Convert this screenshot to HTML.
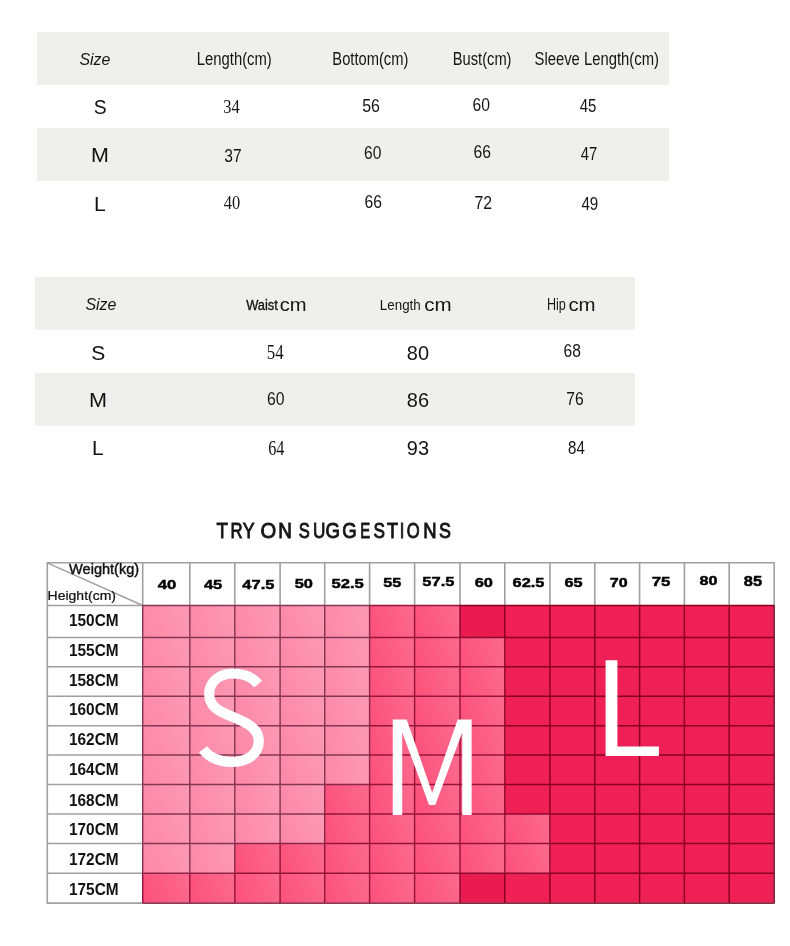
<!DOCTYPE html>
<html><head><meta charset="utf-8"><style>
html,body{margin:0;padding:0;background:#fff;}
body{width:790px;height:946px;overflow:hidden;position:relative;}
svg{position:absolute;left:0;top:0;display:block;will-change:transform;}
text{font-family:"Liberation Sans", sans-serif;}
</style></head><body>
<svg width="790" height="946" viewBox="0 0 790 946">
<defs><linearGradient id="hl" x1="0" y1="0.6" x2="1" y2="0.4"><stop offset="0" stop-color="#fff" stop-opacity="0"/><stop offset="1" stop-color="#fff" stop-opacity="0.13"/></linearGradient></defs>
<rect width="790" height="946" fill="#fff"/>
<rect x="37" y="32" width="632" height="53" fill="#efefee"/>
<rect x="37" y="128" width="632" height="53" fill="#efefee"/>
<rect x="35" y="277" width="600" height="53" fill="#efefee"/>
<rect x="35" y="373" width="600" height="53" fill="#efefee"/>
<rect x="142.7" y="605.5" width="47.1" height="32.0" fill="#fc89a8"/>
<rect x="142.7" y="605.5" width="47.1" height="32.0" fill="url(#hl)"/>
<rect x="189.8" y="605.5" width="45.0" height="32.0" fill="#fc89a8"/>
<rect x="189.8" y="605.5" width="45.0" height="32.0" fill="url(#hl)"/>
<rect x="234.8" y="605.5" width="45.3" height="32.0" fill="#fc89a8"/>
<rect x="234.8" y="605.5" width="45.3" height="32.0" fill="url(#hl)"/>
<rect x="280.1" y="605.5" width="44.6" height="32.0" fill="#fc89a8"/>
<rect x="280.1" y="605.5" width="44.6" height="32.0" fill="url(#hl)"/>
<rect x="324.7" y="605.5" width="44.9" height="32.0" fill="#fc89a8"/>
<rect x="324.7" y="605.5" width="44.9" height="32.0" fill="url(#hl)"/>
<rect x="369.6" y="605.5" width="45.0" height="32.0" fill="#fc527c"/>
<rect x="369.6" y="605.5" width="45.0" height="32.0" fill="url(#hl)"/>
<rect x="414.6" y="605.5" width="45.4" height="32.0" fill="#fc527c"/>
<rect x="414.6" y="605.5" width="45.4" height="32.0" fill="url(#hl)"/>
<rect x="460.0" y="605.5" width="44.8" height="32.0" fill="#e91b50"/>
<rect x="504.8" y="605.5" width="45.1" height="32.0" fill="#ef2055"/>
<rect x="549.9" y="605.5" width="44.9" height="32.0" fill="#ef2055"/>
<rect x="594.8" y="605.5" width="44.8" height="32.0" fill="#ef2055"/>
<rect x="639.6" y="605.5" width="44.8" height="32.0" fill="#ef2055"/>
<rect x="684.4" y="605.5" width="44.8" height="32.0" fill="#ef2055"/>
<rect x="729.2" y="605.5" width="44.9" height="32.0" fill="#ef2055"/>
<rect x="142.7" y="637.5" width="47.1" height="29.2" fill="#fc89a8"/>
<rect x="142.7" y="637.5" width="47.1" height="29.2" fill="url(#hl)"/>
<rect x="189.8" y="637.5" width="45.0" height="29.2" fill="#fc89a8"/>
<rect x="189.8" y="637.5" width="45.0" height="29.2" fill="url(#hl)"/>
<rect x="234.8" y="637.5" width="45.3" height="29.2" fill="#fc89a8"/>
<rect x="234.8" y="637.5" width="45.3" height="29.2" fill="url(#hl)"/>
<rect x="280.1" y="637.5" width="44.6" height="29.2" fill="#fc89a8"/>
<rect x="280.1" y="637.5" width="44.6" height="29.2" fill="url(#hl)"/>
<rect x="324.7" y="637.5" width="44.9" height="29.2" fill="#fc89a8"/>
<rect x="324.7" y="637.5" width="44.9" height="29.2" fill="url(#hl)"/>
<rect x="369.6" y="637.5" width="45.0" height="29.2" fill="#fc527c"/>
<rect x="369.6" y="637.5" width="45.0" height="29.2" fill="url(#hl)"/>
<rect x="414.6" y="637.5" width="45.4" height="29.2" fill="#fc527c"/>
<rect x="414.6" y="637.5" width="45.4" height="29.2" fill="url(#hl)"/>
<rect x="460.0" y="637.5" width="44.8" height="29.2" fill="#fc527c"/>
<rect x="460.0" y="637.5" width="44.8" height="29.2" fill="url(#hl)"/>
<rect x="504.8" y="637.5" width="45.1" height="29.2" fill="#ef2055"/>
<rect x="549.9" y="637.5" width="44.9" height="29.2" fill="#ef2055"/>
<rect x="594.8" y="637.5" width="44.8" height="29.2" fill="#ef2055"/>
<rect x="639.6" y="637.5" width="44.8" height="29.2" fill="#ef2055"/>
<rect x="684.4" y="637.5" width="44.8" height="29.2" fill="#ef2055"/>
<rect x="729.2" y="637.5" width="44.9" height="29.2" fill="#ef2055"/>
<rect x="142.7" y="666.7" width="47.1" height="29.5" fill="#fc89a8"/>
<rect x="142.7" y="666.7" width="47.1" height="29.5" fill="url(#hl)"/>
<rect x="189.8" y="666.7" width="45.0" height="29.5" fill="#fc89a8"/>
<rect x="189.8" y="666.7" width="45.0" height="29.5" fill="url(#hl)"/>
<rect x="234.8" y="666.7" width="45.3" height="29.5" fill="#fc89a8"/>
<rect x="234.8" y="666.7" width="45.3" height="29.5" fill="url(#hl)"/>
<rect x="280.1" y="666.7" width="44.6" height="29.5" fill="#fc89a8"/>
<rect x="280.1" y="666.7" width="44.6" height="29.5" fill="url(#hl)"/>
<rect x="324.7" y="666.7" width="44.9" height="29.5" fill="#fc89a8"/>
<rect x="324.7" y="666.7" width="44.9" height="29.5" fill="url(#hl)"/>
<rect x="369.6" y="666.7" width="45.0" height="29.5" fill="#fc527c"/>
<rect x="369.6" y="666.7" width="45.0" height="29.5" fill="url(#hl)"/>
<rect x="414.6" y="666.7" width="45.4" height="29.5" fill="#fc527c"/>
<rect x="414.6" y="666.7" width="45.4" height="29.5" fill="url(#hl)"/>
<rect x="460.0" y="666.7" width="44.8" height="29.5" fill="#fc527c"/>
<rect x="460.0" y="666.7" width="44.8" height="29.5" fill="url(#hl)"/>
<rect x="504.8" y="666.7" width="45.1" height="29.5" fill="#ef2055"/>
<rect x="549.9" y="666.7" width="44.9" height="29.5" fill="#ef2055"/>
<rect x="594.8" y="666.7" width="44.8" height="29.5" fill="#ef2055"/>
<rect x="639.6" y="666.7" width="44.8" height="29.5" fill="#ef2055"/>
<rect x="684.4" y="666.7" width="44.8" height="29.5" fill="#ef2055"/>
<rect x="729.2" y="666.7" width="44.9" height="29.5" fill="#ef2055"/>
<rect x="142.7" y="696.2" width="47.1" height="29.5" fill="#fc89a8"/>
<rect x="142.7" y="696.2" width="47.1" height="29.5" fill="url(#hl)"/>
<rect x="189.8" y="696.2" width="45.0" height="29.5" fill="#fc89a8"/>
<rect x="189.8" y="696.2" width="45.0" height="29.5" fill="url(#hl)"/>
<rect x="234.8" y="696.2" width="45.3" height="29.5" fill="#fc89a8"/>
<rect x="234.8" y="696.2" width="45.3" height="29.5" fill="url(#hl)"/>
<rect x="280.1" y="696.2" width="44.6" height="29.5" fill="#fc89a8"/>
<rect x="280.1" y="696.2" width="44.6" height="29.5" fill="url(#hl)"/>
<rect x="324.7" y="696.2" width="44.9" height="29.5" fill="#fc89a8"/>
<rect x="324.7" y="696.2" width="44.9" height="29.5" fill="url(#hl)"/>
<rect x="369.6" y="696.2" width="45.0" height="29.5" fill="#fc527c"/>
<rect x="369.6" y="696.2" width="45.0" height="29.5" fill="url(#hl)"/>
<rect x="414.6" y="696.2" width="45.4" height="29.5" fill="#fc527c"/>
<rect x="414.6" y="696.2" width="45.4" height="29.5" fill="url(#hl)"/>
<rect x="460.0" y="696.2" width="44.8" height="29.5" fill="#fc527c"/>
<rect x="460.0" y="696.2" width="44.8" height="29.5" fill="url(#hl)"/>
<rect x="504.8" y="696.2" width="45.1" height="29.5" fill="#ef2055"/>
<rect x="549.9" y="696.2" width="44.9" height="29.5" fill="#ef2055"/>
<rect x="594.8" y="696.2" width="44.8" height="29.5" fill="#ef2055"/>
<rect x="639.6" y="696.2" width="44.8" height="29.5" fill="#ef2055"/>
<rect x="684.4" y="696.2" width="44.8" height="29.5" fill="#ef2055"/>
<rect x="729.2" y="696.2" width="44.9" height="29.5" fill="#ef2055"/>
<rect x="142.7" y="725.7" width="47.1" height="29.3" fill="#fc89a8"/>
<rect x="142.7" y="725.7" width="47.1" height="29.3" fill="url(#hl)"/>
<rect x="189.8" y="725.7" width="45.0" height="29.3" fill="#fc89a8"/>
<rect x="189.8" y="725.7" width="45.0" height="29.3" fill="url(#hl)"/>
<rect x="234.8" y="725.7" width="45.3" height="29.3" fill="#fc89a8"/>
<rect x="234.8" y="725.7" width="45.3" height="29.3" fill="url(#hl)"/>
<rect x="280.1" y="725.7" width="44.6" height="29.3" fill="#fc89a8"/>
<rect x="280.1" y="725.7" width="44.6" height="29.3" fill="url(#hl)"/>
<rect x="324.7" y="725.7" width="44.9" height="29.3" fill="#fc89a8"/>
<rect x="324.7" y="725.7" width="44.9" height="29.3" fill="url(#hl)"/>
<rect x="369.6" y="725.7" width="45.0" height="29.3" fill="#fc527c"/>
<rect x="369.6" y="725.7" width="45.0" height="29.3" fill="url(#hl)"/>
<rect x="414.6" y="725.7" width="45.4" height="29.3" fill="#fc527c"/>
<rect x="414.6" y="725.7" width="45.4" height="29.3" fill="url(#hl)"/>
<rect x="460.0" y="725.7" width="44.8" height="29.3" fill="#fc527c"/>
<rect x="460.0" y="725.7" width="44.8" height="29.3" fill="url(#hl)"/>
<rect x="504.8" y="725.7" width="45.1" height="29.3" fill="#ef2055"/>
<rect x="549.9" y="725.7" width="44.9" height="29.3" fill="#ef2055"/>
<rect x="594.8" y="725.7" width="44.8" height="29.3" fill="#ef2055"/>
<rect x="639.6" y="725.7" width="44.8" height="29.3" fill="#ef2055"/>
<rect x="684.4" y="725.7" width="44.8" height="29.3" fill="#ef2055"/>
<rect x="729.2" y="725.7" width="44.9" height="29.3" fill="#ef2055"/>
<rect x="142.7" y="755.0" width="47.1" height="29.5" fill="#fc89a8"/>
<rect x="142.7" y="755.0" width="47.1" height="29.5" fill="url(#hl)"/>
<rect x="189.8" y="755.0" width="45.0" height="29.5" fill="#fc89a8"/>
<rect x="189.8" y="755.0" width="45.0" height="29.5" fill="url(#hl)"/>
<rect x="234.8" y="755.0" width="45.3" height="29.5" fill="#fc89a8"/>
<rect x="234.8" y="755.0" width="45.3" height="29.5" fill="url(#hl)"/>
<rect x="280.1" y="755.0" width="44.6" height="29.5" fill="#fc89a8"/>
<rect x="280.1" y="755.0" width="44.6" height="29.5" fill="url(#hl)"/>
<rect x="324.7" y="755.0" width="44.9" height="29.5" fill="#fc89a8"/>
<rect x="324.7" y="755.0" width="44.9" height="29.5" fill="url(#hl)"/>
<rect x="369.6" y="755.0" width="45.0" height="29.5" fill="#fc527c"/>
<rect x="369.6" y="755.0" width="45.0" height="29.5" fill="url(#hl)"/>
<rect x="414.6" y="755.0" width="45.4" height="29.5" fill="#fc527c"/>
<rect x="414.6" y="755.0" width="45.4" height="29.5" fill="url(#hl)"/>
<rect x="460.0" y="755.0" width="44.8" height="29.5" fill="#fc527c"/>
<rect x="460.0" y="755.0" width="44.8" height="29.5" fill="url(#hl)"/>
<rect x="504.8" y="755.0" width="45.1" height="29.5" fill="#ef2055"/>
<rect x="549.9" y="755.0" width="44.9" height="29.5" fill="#ef2055"/>
<rect x="594.8" y="755.0" width="44.8" height="29.5" fill="#ef2055"/>
<rect x="639.6" y="755.0" width="44.8" height="29.5" fill="#ef2055"/>
<rect x="684.4" y="755.0" width="44.8" height="29.5" fill="#ef2055"/>
<rect x="729.2" y="755.0" width="44.9" height="29.5" fill="#ef2055"/>
<rect x="142.7" y="784.5" width="47.1" height="29.5" fill="#fc89a8"/>
<rect x="142.7" y="784.5" width="47.1" height="29.5" fill="url(#hl)"/>
<rect x="189.8" y="784.5" width="45.0" height="29.5" fill="#fc89a8"/>
<rect x="189.8" y="784.5" width="45.0" height="29.5" fill="url(#hl)"/>
<rect x="234.8" y="784.5" width="45.3" height="29.5" fill="#fc89a8"/>
<rect x="234.8" y="784.5" width="45.3" height="29.5" fill="url(#hl)"/>
<rect x="280.1" y="784.5" width="44.6" height="29.5" fill="#fc89a8"/>
<rect x="280.1" y="784.5" width="44.6" height="29.5" fill="url(#hl)"/>
<rect x="324.7" y="784.5" width="44.9" height="29.5" fill="#fc527c"/>
<rect x="324.7" y="784.5" width="44.9" height="29.5" fill="url(#hl)"/>
<rect x="369.6" y="784.5" width="45.0" height="29.5" fill="#fc527c"/>
<rect x="369.6" y="784.5" width="45.0" height="29.5" fill="url(#hl)"/>
<rect x="414.6" y="784.5" width="45.4" height="29.5" fill="#fc527c"/>
<rect x="414.6" y="784.5" width="45.4" height="29.5" fill="url(#hl)"/>
<rect x="460.0" y="784.5" width="44.8" height="29.5" fill="#fc527c"/>
<rect x="460.0" y="784.5" width="44.8" height="29.5" fill="url(#hl)"/>
<rect x="504.8" y="784.5" width="45.1" height="29.5" fill="#ef2055"/>
<rect x="549.9" y="784.5" width="44.9" height="29.5" fill="#ef2055"/>
<rect x="594.8" y="784.5" width="44.8" height="29.5" fill="#ef2055"/>
<rect x="639.6" y="784.5" width="44.8" height="29.5" fill="#ef2055"/>
<rect x="684.4" y="784.5" width="44.8" height="29.5" fill="#ef2055"/>
<rect x="729.2" y="784.5" width="44.9" height="29.5" fill="#ef2055"/>
<rect x="142.7" y="814.0" width="47.1" height="29.5" fill="#fc89a8"/>
<rect x="142.7" y="814.0" width="47.1" height="29.5" fill="url(#hl)"/>
<rect x="189.8" y="814.0" width="45.0" height="29.5" fill="#fc89a8"/>
<rect x="189.8" y="814.0" width="45.0" height="29.5" fill="url(#hl)"/>
<rect x="234.8" y="814.0" width="45.3" height="29.5" fill="#fc89a8"/>
<rect x="234.8" y="814.0" width="45.3" height="29.5" fill="url(#hl)"/>
<rect x="280.1" y="814.0" width="44.6" height="29.5" fill="#fc89a8"/>
<rect x="280.1" y="814.0" width="44.6" height="29.5" fill="url(#hl)"/>
<rect x="324.7" y="814.0" width="44.9" height="29.5" fill="#fc527c"/>
<rect x="324.7" y="814.0" width="44.9" height="29.5" fill="url(#hl)"/>
<rect x="369.6" y="814.0" width="45.0" height="29.5" fill="#fc527c"/>
<rect x="369.6" y="814.0" width="45.0" height="29.5" fill="url(#hl)"/>
<rect x="414.6" y="814.0" width="45.4" height="29.5" fill="#fc527c"/>
<rect x="414.6" y="814.0" width="45.4" height="29.5" fill="url(#hl)"/>
<rect x="460.0" y="814.0" width="44.8" height="29.5" fill="#fc527c"/>
<rect x="460.0" y="814.0" width="44.8" height="29.5" fill="url(#hl)"/>
<rect x="504.8" y="814.0" width="45.1" height="29.5" fill="#fc527c"/>
<rect x="504.8" y="814.0" width="45.1" height="29.5" fill="url(#hl)"/>
<rect x="549.9" y="814.0" width="44.9" height="29.5" fill="#ef2055"/>
<rect x="594.8" y="814.0" width="44.8" height="29.5" fill="#ef2055"/>
<rect x="639.6" y="814.0" width="44.8" height="29.5" fill="#ef2055"/>
<rect x="684.4" y="814.0" width="44.8" height="29.5" fill="#ef2055"/>
<rect x="729.2" y="814.0" width="44.9" height="29.5" fill="#ef2055"/>
<rect x="142.7" y="843.5" width="47.1" height="29.7" fill="#fc89a8"/>
<rect x="142.7" y="843.5" width="47.1" height="29.7" fill="url(#hl)"/>
<rect x="189.8" y="843.5" width="45.0" height="29.7" fill="#fc89a8"/>
<rect x="189.8" y="843.5" width="45.0" height="29.7" fill="url(#hl)"/>
<rect x="234.8" y="843.5" width="45.3" height="29.7" fill="#fc527c"/>
<rect x="234.8" y="843.5" width="45.3" height="29.7" fill="url(#hl)"/>
<rect x="280.1" y="843.5" width="44.6" height="29.7" fill="#fc527c"/>
<rect x="280.1" y="843.5" width="44.6" height="29.7" fill="url(#hl)"/>
<rect x="324.7" y="843.5" width="44.9" height="29.7" fill="#fc527c"/>
<rect x="324.7" y="843.5" width="44.9" height="29.7" fill="url(#hl)"/>
<rect x="369.6" y="843.5" width="45.0" height="29.7" fill="#fc527c"/>
<rect x="369.6" y="843.5" width="45.0" height="29.7" fill="url(#hl)"/>
<rect x="414.6" y="843.5" width="45.4" height="29.7" fill="#fc527c"/>
<rect x="414.6" y="843.5" width="45.4" height="29.7" fill="url(#hl)"/>
<rect x="460.0" y="843.5" width="44.8" height="29.7" fill="#fc527c"/>
<rect x="460.0" y="843.5" width="44.8" height="29.7" fill="url(#hl)"/>
<rect x="504.8" y="843.5" width="45.1" height="29.7" fill="#fc527c"/>
<rect x="504.8" y="843.5" width="45.1" height="29.7" fill="url(#hl)"/>
<rect x="549.9" y="843.5" width="44.9" height="29.7" fill="#ef2055"/>
<rect x="594.8" y="843.5" width="44.8" height="29.7" fill="#ef2055"/>
<rect x="639.6" y="843.5" width="44.8" height="29.7" fill="#ef2055"/>
<rect x="684.4" y="843.5" width="44.8" height="29.7" fill="#ef2055"/>
<rect x="729.2" y="843.5" width="44.9" height="29.7" fill="#ef2055"/>
<rect x="142.7" y="873.2" width="47.1" height="29.9" fill="#fc527c"/>
<rect x="142.7" y="873.2" width="47.1" height="29.9" fill="url(#hl)"/>
<rect x="189.8" y="873.2" width="45.0" height="29.9" fill="#fc527c"/>
<rect x="189.8" y="873.2" width="45.0" height="29.9" fill="url(#hl)"/>
<rect x="234.8" y="873.2" width="45.3" height="29.9" fill="#fc527c"/>
<rect x="234.8" y="873.2" width="45.3" height="29.9" fill="url(#hl)"/>
<rect x="280.1" y="873.2" width="44.6" height="29.9" fill="#fc527c"/>
<rect x="280.1" y="873.2" width="44.6" height="29.9" fill="url(#hl)"/>
<rect x="324.7" y="873.2" width="44.9" height="29.9" fill="#fc527c"/>
<rect x="324.7" y="873.2" width="44.9" height="29.9" fill="url(#hl)"/>
<rect x="369.6" y="873.2" width="45.0" height="29.9" fill="#fc527c"/>
<rect x="369.6" y="873.2" width="45.0" height="29.9" fill="url(#hl)"/>
<rect x="414.6" y="873.2" width="45.4" height="29.9" fill="#fc527c"/>
<rect x="414.6" y="873.2" width="45.4" height="29.9" fill="url(#hl)"/>
<rect x="460.0" y="873.2" width="44.8" height="29.9" fill="#e91b50"/>
<rect x="504.8" y="873.2" width="45.1" height="29.9" fill="#ef2055"/>
<rect x="549.9" y="873.2" width="44.9" height="29.9" fill="#ef2055"/>
<rect x="594.8" y="873.2" width="44.8" height="29.9" fill="#ef2055"/>
<rect x="639.6" y="873.2" width="44.8" height="29.9" fill="#ef2055"/>
<rect x="684.4" y="873.2" width="44.8" height="29.9" fill="#ef2055"/>
<rect x="729.2" y="873.2" width="44.9" height="29.9" fill="#ef2055"/>
<path d="M47.3 562.8H774.1V903.1H47.3Z" fill="none" stroke="#a0a0a0" stroke-width="1.6"/>
<line x1="142.7" y1="562.8" x2="142.7" y2="605.5" stroke="#a0a0a0" stroke-width="1.6"/>
<line x1="189.8" y1="562.8" x2="189.8" y2="605.5" stroke="#a0a0a0" stroke-width="1.6"/>
<line x1="234.8" y1="562.8" x2="234.8" y2="605.5" stroke="#a0a0a0" stroke-width="1.6"/>
<line x1="280.1" y1="562.8" x2="280.1" y2="605.5" stroke="#a0a0a0" stroke-width="1.6"/>
<line x1="324.7" y1="562.8" x2="324.7" y2="605.5" stroke="#a0a0a0" stroke-width="1.6"/>
<line x1="369.6" y1="562.8" x2="369.6" y2="605.5" stroke="#a0a0a0" stroke-width="1.6"/>
<line x1="414.6" y1="562.8" x2="414.6" y2="605.5" stroke="#a0a0a0" stroke-width="1.6"/>
<line x1="460.0" y1="562.8" x2="460.0" y2="605.5" stroke="#a0a0a0" stroke-width="1.6"/>
<line x1="504.8" y1="562.8" x2="504.8" y2="605.5" stroke="#a0a0a0" stroke-width="1.6"/>
<line x1="549.9" y1="562.8" x2="549.9" y2="605.5" stroke="#a0a0a0" stroke-width="1.6"/>
<line x1="594.8" y1="562.8" x2="594.8" y2="605.5" stroke="#a0a0a0" stroke-width="1.6"/>
<line x1="639.6" y1="562.8" x2="639.6" y2="605.5" stroke="#a0a0a0" stroke-width="1.6"/>
<line x1="684.4" y1="562.8" x2="684.4" y2="605.5" stroke="#a0a0a0" stroke-width="1.6"/>
<line x1="729.2" y1="562.8" x2="729.2" y2="605.5" stroke="#a0a0a0" stroke-width="1.6"/>
<line x1="47.3" y1="605.5" x2="142.7" y2="605.5" stroke="#a0a0a0" stroke-width="1.6"/>
<line x1="47.3" y1="637.5" x2="142.7" y2="637.5" stroke="#a0a0a0" stroke-width="1.6"/>
<line x1="47.3" y1="666.7" x2="142.7" y2="666.7" stroke="#a0a0a0" stroke-width="1.6"/>
<line x1="47.3" y1="696.2" x2="142.7" y2="696.2" stroke="#a0a0a0" stroke-width="1.6"/>
<line x1="47.3" y1="725.7" x2="142.7" y2="725.7" stroke="#a0a0a0" stroke-width="1.6"/>
<line x1="47.3" y1="755.0" x2="142.7" y2="755.0" stroke="#a0a0a0" stroke-width="1.6"/>
<line x1="47.3" y1="784.5" x2="142.7" y2="784.5" stroke="#a0a0a0" stroke-width="1.6"/>
<line x1="47.3" y1="814.0" x2="142.7" y2="814.0" stroke="#a0a0a0" stroke-width="1.6"/>
<line x1="47.3" y1="843.5" x2="142.7" y2="843.5" stroke="#a0a0a0" stroke-width="1.6"/>
<line x1="47.3" y1="873.2" x2="142.7" y2="873.2" stroke="#a0a0a0" stroke-width="1.6"/>
<line x1="47.3" y1="562.8" x2="142.7" y2="605.5" stroke="#a0a0a0" stroke-width="1.4"/>
<line x1="142.7" y1="605.5" x2="142.7" y2="637.5" stroke="rgb(132,55,85)" stroke-width="1.45"/>
<line x1="142.7" y1="637.5" x2="142.7" y2="666.7" stroke="rgb(132,55,85)" stroke-width="1.45"/>
<line x1="142.7" y1="666.7" x2="142.7" y2="696.2" stroke="rgb(132,55,85)" stroke-width="1.45"/>
<line x1="142.7" y1="696.2" x2="142.7" y2="725.7" stroke="rgb(132,55,85)" stroke-width="1.45"/>
<line x1="142.7" y1="725.7" x2="142.7" y2="755.0" stroke="rgb(132,55,85)" stroke-width="1.45"/>
<line x1="142.7" y1="755.0" x2="142.7" y2="784.5" stroke="rgb(132,55,85)" stroke-width="1.45"/>
<line x1="142.7" y1="784.5" x2="142.7" y2="814.0" stroke="rgb(132,55,85)" stroke-width="1.45"/>
<line x1="142.7" y1="814.0" x2="142.7" y2="843.5" stroke="rgb(132,55,85)" stroke-width="1.45"/>
<line x1="142.7" y1="843.5" x2="142.7" y2="873.2" stroke="rgb(132,55,85)" stroke-width="1.45"/>
<line x1="142.7" y1="873.2" x2="142.7" y2="903.1" stroke="rgb(150,20,58)" stroke-width="1.45"/>
<line x1="189.8" y1="605.5" x2="189.8" y2="637.5" stroke="rgb(132,55,85)" stroke-width="1.45"/>
<line x1="189.8" y1="637.5" x2="189.8" y2="666.7" stroke="rgb(132,55,85)" stroke-width="1.45"/>
<line x1="189.8" y1="666.7" x2="189.8" y2="696.2" stroke="rgb(132,55,85)" stroke-width="1.45"/>
<line x1="189.8" y1="696.2" x2="189.8" y2="725.7" stroke="rgb(132,55,85)" stroke-width="1.45"/>
<line x1="189.8" y1="725.7" x2="189.8" y2="755.0" stroke="rgb(132,55,85)" stroke-width="1.45"/>
<line x1="189.8" y1="755.0" x2="189.8" y2="784.5" stroke="rgb(132,55,85)" stroke-width="1.45"/>
<line x1="189.8" y1="784.5" x2="189.8" y2="814.0" stroke="rgb(132,55,85)" stroke-width="1.45"/>
<line x1="189.8" y1="814.0" x2="189.8" y2="843.5" stroke="rgb(132,55,85)" stroke-width="1.45"/>
<line x1="189.8" y1="843.5" x2="189.8" y2="873.2" stroke="rgb(132,55,85)" stroke-width="1.45"/>
<line x1="189.8" y1="873.2" x2="189.8" y2="903.1" stroke="rgb(150,20,58)" stroke-width="1.45"/>
<line x1="234.8" y1="605.5" x2="234.8" y2="637.5" stroke="rgb(132,55,85)" stroke-width="1.45"/>
<line x1="234.8" y1="637.5" x2="234.8" y2="666.7" stroke="rgb(132,55,85)" stroke-width="1.45"/>
<line x1="234.8" y1="666.7" x2="234.8" y2="696.2" stroke="rgb(132,55,85)" stroke-width="1.45"/>
<line x1="234.8" y1="696.2" x2="234.8" y2="725.7" stroke="rgb(132,55,85)" stroke-width="1.45"/>
<line x1="234.8" y1="725.7" x2="234.8" y2="755.0" stroke="rgb(132,55,85)" stroke-width="1.45"/>
<line x1="234.8" y1="755.0" x2="234.8" y2="784.5" stroke="rgb(132,55,85)" stroke-width="1.45"/>
<line x1="234.8" y1="784.5" x2="234.8" y2="814.0" stroke="rgb(132,55,85)" stroke-width="1.45"/>
<line x1="234.8" y1="814.0" x2="234.8" y2="843.5" stroke="rgb(132,55,85)" stroke-width="1.45"/>
<line x1="234.8" y1="843.5" x2="234.8" y2="873.2" stroke="rgb(141,38,72)" stroke-width="1.45"/>
<line x1="234.8" y1="873.2" x2="234.8" y2="903.1" stroke="rgb(150,20,58)" stroke-width="1.45"/>
<line x1="280.1" y1="605.5" x2="280.1" y2="637.5" stroke="rgb(132,55,85)" stroke-width="1.45"/>
<line x1="280.1" y1="637.5" x2="280.1" y2="666.7" stroke="rgb(132,55,85)" stroke-width="1.45"/>
<line x1="280.1" y1="666.7" x2="280.1" y2="696.2" stroke="rgb(132,55,85)" stroke-width="1.45"/>
<line x1="280.1" y1="696.2" x2="280.1" y2="725.7" stroke="rgb(132,55,85)" stroke-width="1.45"/>
<line x1="280.1" y1="725.7" x2="280.1" y2="755.0" stroke="rgb(132,55,85)" stroke-width="1.45"/>
<line x1="280.1" y1="755.0" x2="280.1" y2="784.5" stroke="rgb(132,55,85)" stroke-width="1.45"/>
<line x1="280.1" y1="784.5" x2="280.1" y2="814.0" stroke="rgb(132,55,85)" stroke-width="1.45"/>
<line x1="280.1" y1="814.0" x2="280.1" y2="843.5" stroke="rgb(132,55,85)" stroke-width="1.45"/>
<line x1="280.1" y1="843.5" x2="280.1" y2="873.2" stroke="rgb(150,20,58)" stroke-width="1.45"/>
<line x1="280.1" y1="873.2" x2="280.1" y2="903.1" stroke="rgb(150,20,58)" stroke-width="1.45"/>
<line x1="324.7" y1="605.5" x2="324.7" y2="637.5" stroke="rgb(132,55,85)" stroke-width="1.45"/>
<line x1="324.7" y1="637.5" x2="324.7" y2="666.7" stroke="rgb(132,55,85)" stroke-width="1.45"/>
<line x1="324.7" y1="666.7" x2="324.7" y2="696.2" stroke="rgb(132,55,85)" stroke-width="1.45"/>
<line x1="324.7" y1="696.2" x2="324.7" y2="725.7" stroke="rgb(132,55,85)" stroke-width="1.45"/>
<line x1="324.7" y1="725.7" x2="324.7" y2="755.0" stroke="rgb(132,55,85)" stroke-width="1.45"/>
<line x1="324.7" y1="755.0" x2="324.7" y2="784.5" stroke="rgb(132,55,85)" stroke-width="1.45"/>
<line x1="324.7" y1="784.5" x2="324.7" y2="814.0" stroke="rgb(141,38,72)" stroke-width="1.45"/>
<line x1="324.7" y1="814.0" x2="324.7" y2="843.5" stroke="rgb(141,38,72)" stroke-width="1.45"/>
<line x1="324.7" y1="843.5" x2="324.7" y2="873.2" stroke="rgb(150,20,58)" stroke-width="1.45"/>
<line x1="324.7" y1="873.2" x2="324.7" y2="903.1" stroke="rgb(150,20,58)" stroke-width="1.45"/>
<line x1="369.6" y1="605.5" x2="369.6" y2="637.5" stroke="rgb(141,38,72)" stroke-width="1.45"/>
<line x1="369.6" y1="637.5" x2="369.6" y2="666.7" stroke="rgb(141,38,72)" stroke-width="1.45"/>
<line x1="369.6" y1="666.7" x2="369.6" y2="696.2" stroke="rgb(141,38,72)" stroke-width="1.45"/>
<line x1="369.6" y1="696.2" x2="369.6" y2="725.7" stroke="rgb(141,38,72)" stroke-width="1.45"/>
<line x1="369.6" y1="725.7" x2="369.6" y2="755.0" stroke="rgb(141,38,72)" stroke-width="1.45"/>
<line x1="369.6" y1="755.0" x2="369.6" y2="784.5" stroke="rgb(141,38,72)" stroke-width="1.45"/>
<line x1="369.6" y1="784.5" x2="369.6" y2="814.0" stroke="rgb(150,20,58)" stroke-width="1.45"/>
<line x1="369.6" y1="814.0" x2="369.6" y2="843.5" stroke="rgb(150,20,58)" stroke-width="1.45"/>
<line x1="369.6" y1="843.5" x2="369.6" y2="873.2" stroke="rgb(150,20,58)" stroke-width="1.45"/>
<line x1="369.6" y1="873.2" x2="369.6" y2="903.1" stroke="rgb(150,20,58)" stroke-width="1.45"/>
<line x1="414.6" y1="605.5" x2="414.6" y2="637.5" stroke="rgb(150,20,58)" stroke-width="1.45"/>
<line x1="414.6" y1="637.5" x2="414.6" y2="666.7" stroke="rgb(150,20,58)" stroke-width="1.45"/>
<line x1="414.6" y1="666.7" x2="414.6" y2="696.2" stroke="rgb(150,20,58)" stroke-width="1.45"/>
<line x1="414.6" y1="696.2" x2="414.6" y2="725.7" stroke="rgb(150,20,58)" stroke-width="1.45"/>
<line x1="414.6" y1="725.7" x2="414.6" y2="755.0" stroke="rgb(150,20,58)" stroke-width="1.45"/>
<line x1="414.6" y1="755.0" x2="414.6" y2="784.5" stroke="rgb(150,20,58)" stroke-width="1.45"/>
<line x1="414.6" y1="784.5" x2="414.6" y2="814.0" stroke="rgb(150,20,58)" stroke-width="1.45"/>
<line x1="414.6" y1="814.0" x2="414.6" y2="843.5" stroke="rgb(150,20,58)" stroke-width="1.45"/>
<line x1="414.6" y1="843.5" x2="414.6" y2="873.2" stroke="rgb(150,20,58)" stroke-width="1.45"/>
<line x1="414.6" y1="873.2" x2="414.6" y2="903.1" stroke="rgb(150,20,58)" stroke-width="1.45"/>
<line x1="460.0" y1="605.5" x2="460.0" y2="637.5" stroke="rgb(140,10,43)" stroke-width="1.45"/>
<line x1="460.0" y1="637.5" x2="460.0" y2="666.7" stroke="rgb(150,20,58)" stroke-width="1.45"/>
<line x1="460.0" y1="666.7" x2="460.0" y2="696.2" stroke="rgb(150,20,58)" stroke-width="1.45"/>
<line x1="460.0" y1="696.2" x2="460.0" y2="725.7" stroke="rgb(150,20,58)" stroke-width="1.45"/>
<line x1="460.0" y1="725.7" x2="460.0" y2="755.0" stroke="rgb(150,20,58)" stroke-width="1.45"/>
<line x1="460.0" y1="755.0" x2="460.0" y2="784.5" stroke="rgb(150,20,58)" stroke-width="1.45"/>
<line x1="460.0" y1="784.5" x2="460.0" y2="814.0" stroke="rgb(150,20,58)" stroke-width="1.45"/>
<line x1="460.0" y1="814.0" x2="460.0" y2="843.5" stroke="rgb(150,20,58)" stroke-width="1.45"/>
<line x1="460.0" y1="843.5" x2="460.0" y2="873.2" stroke="rgb(150,20,58)" stroke-width="1.45"/>
<line x1="460.0" y1="873.2" x2="460.0" y2="903.1" stroke="rgb(140,10,43)" stroke-width="1.45"/>
<line x1="504.8" y1="605.5" x2="504.8" y2="637.5" stroke="rgb(132,0,29)" stroke-width="1.45"/>
<line x1="504.8" y1="637.5" x2="504.8" y2="666.7" stroke="rgb(142,10,44)" stroke-width="1.45"/>
<line x1="504.8" y1="666.7" x2="504.8" y2="696.2" stroke="rgb(142,10,44)" stroke-width="1.45"/>
<line x1="504.8" y1="696.2" x2="504.8" y2="725.7" stroke="rgb(142,10,44)" stroke-width="1.45"/>
<line x1="504.8" y1="725.7" x2="504.8" y2="755.0" stroke="rgb(142,10,44)" stroke-width="1.45"/>
<line x1="504.8" y1="755.0" x2="504.8" y2="784.5" stroke="rgb(142,10,44)" stroke-width="1.45"/>
<line x1="504.8" y1="784.5" x2="504.8" y2="814.0" stroke="rgb(142,10,44)" stroke-width="1.45"/>
<line x1="504.8" y1="814.0" x2="504.8" y2="843.5" stroke="rgb(150,20,58)" stroke-width="1.45"/>
<line x1="504.8" y1="843.5" x2="504.8" y2="873.2" stroke="rgb(150,20,58)" stroke-width="1.45"/>
<line x1="504.8" y1="873.2" x2="504.8" y2="903.1" stroke="rgb(132,0,29)" stroke-width="1.45"/>
<line x1="549.9" y1="605.5" x2="549.9" y2="637.5" stroke="rgb(135,0,30)" stroke-width="1.45"/>
<line x1="549.9" y1="637.5" x2="549.9" y2="666.7" stroke="rgb(135,0,30)" stroke-width="1.45"/>
<line x1="549.9" y1="666.7" x2="549.9" y2="696.2" stroke="rgb(135,0,30)" stroke-width="1.45"/>
<line x1="549.9" y1="696.2" x2="549.9" y2="725.7" stroke="rgb(135,0,30)" stroke-width="1.45"/>
<line x1="549.9" y1="725.7" x2="549.9" y2="755.0" stroke="rgb(135,0,30)" stroke-width="1.45"/>
<line x1="549.9" y1="755.0" x2="549.9" y2="784.5" stroke="rgb(135,0,30)" stroke-width="1.45"/>
<line x1="549.9" y1="784.5" x2="549.9" y2="814.0" stroke="rgb(135,0,30)" stroke-width="1.45"/>
<line x1="549.9" y1="814.0" x2="549.9" y2="843.5" stroke="rgb(142,10,44)" stroke-width="1.45"/>
<line x1="549.9" y1="843.5" x2="549.9" y2="873.2" stroke="rgb(142,10,44)" stroke-width="1.45"/>
<line x1="549.9" y1="873.2" x2="549.9" y2="903.1" stroke="rgb(135,0,30)" stroke-width="1.45"/>
<line x1="594.8" y1="605.5" x2="594.8" y2="637.5" stroke="rgb(135,0,30)" stroke-width="1.45"/>
<line x1="594.8" y1="637.5" x2="594.8" y2="666.7" stroke="rgb(135,0,30)" stroke-width="1.45"/>
<line x1="594.8" y1="666.7" x2="594.8" y2="696.2" stroke="rgb(135,0,30)" stroke-width="1.45"/>
<line x1="594.8" y1="696.2" x2="594.8" y2="725.7" stroke="rgb(135,0,30)" stroke-width="1.45"/>
<line x1="594.8" y1="725.7" x2="594.8" y2="755.0" stroke="rgb(135,0,30)" stroke-width="1.45"/>
<line x1="594.8" y1="755.0" x2="594.8" y2="784.5" stroke="rgb(135,0,30)" stroke-width="1.45"/>
<line x1="594.8" y1="784.5" x2="594.8" y2="814.0" stroke="rgb(135,0,30)" stroke-width="1.45"/>
<line x1="594.8" y1="814.0" x2="594.8" y2="843.5" stroke="rgb(135,0,30)" stroke-width="1.45"/>
<line x1="594.8" y1="843.5" x2="594.8" y2="873.2" stroke="rgb(135,0,30)" stroke-width="1.45"/>
<line x1="594.8" y1="873.2" x2="594.8" y2="903.1" stroke="rgb(135,0,30)" stroke-width="1.45"/>
<line x1="639.6" y1="605.5" x2="639.6" y2="637.5" stroke="rgb(135,0,30)" stroke-width="1.45"/>
<line x1="639.6" y1="637.5" x2="639.6" y2="666.7" stroke="rgb(135,0,30)" stroke-width="1.45"/>
<line x1="639.6" y1="666.7" x2="639.6" y2="696.2" stroke="rgb(135,0,30)" stroke-width="1.45"/>
<line x1="639.6" y1="696.2" x2="639.6" y2="725.7" stroke="rgb(135,0,30)" stroke-width="1.45"/>
<line x1="639.6" y1="725.7" x2="639.6" y2="755.0" stroke="rgb(135,0,30)" stroke-width="1.45"/>
<line x1="639.6" y1="755.0" x2="639.6" y2="784.5" stroke="rgb(135,0,30)" stroke-width="1.45"/>
<line x1="639.6" y1="784.5" x2="639.6" y2="814.0" stroke="rgb(135,0,30)" stroke-width="1.45"/>
<line x1="639.6" y1="814.0" x2="639.6" y2="843.5" stroke="rgb(135,0,30)" stroke-width="1.45"/>
<line x1="639.6" y1="843.5" x2="639.6" y2="873.2" stroke="rgb(135,0,30)" stroke-width="1.45"/>
<line x1="639.6" y1="873.2" x2="639.6" y2="903.1" stroke="rgb(135,0,30)" stroke-width="1.45"/>
<line x1="684.4" y1="605.5" x2="684.4" y2="637.5" stroke="rgb(135,0,30)" stroke-width="1.45"/>
<line x1="684.4" y1="637.5" x2="684.4" y2="666.7" stroke="rgb(135,0,30)" stroke-width="1.45"/>
<line x1="684.4" y1="666.7" x2="684.4" y2="696.2" stroke="rgb(135,0,30)" stroke-width="1.45"/>
<line x1="684.4" y1="696.2" x2="684.4" y2="725.7" stroke="rgb(135,0,30)" stroke-width="1.45"/>
<line x1="684.4" y1="725.7" x2="684.4" y2="755.0" stroke="rgb(135,0,30)" stroke-width="1.45"/>
<line x1="684.4" y1="755.0" x2="684.4" y2="784.5" stroke="rgb(135,0,30)" stroke-width="1.45"/>
<line x1="684.4" y1="784.5" x2="684.4" y2="814.0" stroke="rgb(135,0,30)" stroke-width="1.45"/>
<line x1="684.4" y1="814.0" x2="684.4" y2="843.5" stroke="rgb(135,0,30)" stroke-width="1.45"/>
<line x1="684.4" y1="843.5" x2="684.4" y2="873.2" stroke="rgb(135,0,30)" stroke-width="1.45"/>
<line x1="684.4" y1="873.2" x2="684.4" y2="903.1" stroke="rgb(135,0,30)" stroke-width="1.45"/>
<line x1="729.2" y1="605.5" x2="729.2" y2="637.5" stroke="rgb(135,0,30)" stroke-width="1.45"/>
<line x1="729.2" y1="637.5" x2="729.2" y2="666.7" stroke="rgb(135,0,30)" stroke-width="1.45"/>
<line x1="729.2" y1="666.7" x2="729.2" y2="696.2" stroke="rgb(135,0,30)" stroke-width="1.45"/>
<line x1="729.2" y1="696.2" x2="729.2" y2="725.7" stroke="rgb(135,0,30)" stroke-width="1.45"/>
<line x1="729.2" y1="725.7" x2="729.2" y2="755.0" stroke="rgb(135,0,30)" stroke-width="1.45"/>
<line x1="729.2" y1="755.0" x2="729.2" y2="784.5" stroke="rgb(135,0,30)" stroke-width="1.45"/>
<line x1="729.2" y1="784.5" x2="729.2" y2="814.0" stroke="rgb(135,0,30)" stroke-width="1.45"/>
<line x1="729.2" y1="814.0" x2="729.2" y2="843.5" stroke="rgb(135,0,30)" stroke-width="1.45"/>
<line x1="729.2" y1="843.5" x2="729.2" y2="873.2" stroke="rgb(135,0,30)" stroke-width="1.45"/>
<line x1="729.2" y1="873.2" x2="729.2" y2="903.1" stroke="rgb(135,0,30)" stroke-width="1.45"/>
<line x1="774.1" y1="605.5" x2="774.1" y2="637.5" stroke="rgb(135,0,30)" stroke-width="1.45"/>
<line x1="774.1" y1="637.5" x2="774.1" y2="666.7" stroke="rgb(135,0,30)" stroke-width="1.45"/>
<line x1="774.1" y1="666.7" x2="774.1" y2="696.2" stroke="rgb(135,0,30)" stroke-width="1.45"/>
<line x1="774.1" y1="696.2" x2="774.1" y2="725.7" stroke="rgb(135,0,30)" stroke-width="1.45"/>
<line x1="774.1" y1="725.7" x2="774.1" y2="755.0" stroke="rgb(135,0,30)" stroke-width="1.45"/>
<line x1="774.1" y1="755.0" x2="774.1" y2="784.5" stroke="rgb(135,0,30)" stroke-width="1.45"/>
<line x1="774.1" y1="784.5" x2="774.1" y2="814.0" stroke="rgb(135,0,30)" stroke-width="1.45"/>
<line x1="774.1" y1="814.0" x2="774.1" y2="843.5" stroke="rgb(135,0,30)" stroke-width="1.45"/>
<line x1="774.1" y1="843.5" x2="774.1" y2="873.2" stroke="rgb(135,0,30)" stroke-width="1.45"/>
<line x1="774.1" y1="873.2" x2="774.1" y2="903.1" stroke="rgb(135,0,30)" stroke-width="1.45"/>
<line x1="142.7" y1="605.5" x2="189.8" y2="605.5" stroke="rgb(132,55,85)" stroke-width="1.45"/>
<line x1="189.8" y1="605.5" x2="234.8" y2="605.5" stroke="rgb(132,55,85)" stroke-width="1.45"/>
<line x1="234.8" y1="605.5" x2="280.1" y2="605.5" stroke="rgb(132,55,85)" stroke-width="1.45"/>
<line x1="280.1" y1="605.5" x2="324.7" y2="605.5" stroke="rgb(132,55,85)" stroke-width="1.45"/>
<line x1="324.7" y1="605.5" x2="369.6" y2="605.5" stroke="rgb(132,55,85)" stroke-width="1.45"/>
<line x1="369.6" y1="605.5" x2="414.6" y2="605.5" stroke="rgb(150,20,58)" stroke-width="1.45"/>
<line x1="414.6" y1="605.5" x2="460.0" y2="605.5" stroke="rgb(150,20,58)" stroke-width="1.45"/>
<line x1="460.0" y1="605.5" x2="504.8" y2="605.5" stroke="rgb(130,0,28)" stroke-width="1.45"/>
<line x1="504.8" y1="605.5" x2="549.9" y2="605.5" stroke="rgb(135,0,30)" stroke-width="1.45"/>
<line x1="549.9" y1="605.5" x2="594.8" y2="605.5" stroke="rgb(135,0,30)" stroke-width="1.45"/>
<line x1="594.8" y1="605.5" x2="639.6" y2="605.5" stroke="rgb(135,0,30)" stroke-width="1.45"/>
<line x1="639.6" y1="605.5" x2="684.4" y2="605.5" stroke="rgb(135,0,30)" stroke-width="1.45"/>
<line x1="684.4" y1="605.5" x2="729.2" y2="605.5" stroke="rgb(135,0,30)" stroke-width="1.45"/>
<line x1="729.2" y1="605.5" x2="774.1" y2="605.5" stroke="rgb(135,0,30)" stroke-width="1.45"/>
<line x1="142.7" y1="637.5" x2="189.8" y2="637.5" stroke="rgb(132,55,85)" stroke-width="1.45"/>
<line x1="189.8" y1="637.5" x2="234.8" y2="637.5" stroke="rgb(132,55,85)" stroke-width="1.45"/>
<line x1="234.8" y1="637.5" x2="280.1" y2="637.5" stroke="rgb(132,55,85)" stroke-width="1.45"/>
<line x1="280.1" y1="637.5" x2="324.7" y2="637.5" stroke="rgb(132,55,85)" stroke-width="1.45"/>
<line x1="324.7" y1="637.5" x2="369.6" y2="637.5" stroke="rgb(132,55,85)" stroke-width="1.45"/>
<line x1="369.6" y1="637.5" x2="414.6" y2="637.5" stroke="rgb(150,20,58)" stroke-width="1.45"/>
<line x1="414.6" y1="637.5" x2="460.0" y2="637.5" stroke="rgb(150,20,58)" stroke-width="1.45"/>
<line x1="460.0" y1="637.5" x2="504.8" y2="637.5" stroke="rgb(140,10,43)" stroke-width="1.45"/>
<line x1="504.8" y1="637.5" x2="549.9" y2="637.5" stroke="rgb(135,0,30)" stroke-width="1.45"/>
<line x1="549.9" y1="637.5" x2="594.8" y2="637.5" stroke="rgb(135,0,30)" stroke-width="1.45"/>
<line x1="594.8" y1="637.5" x2="639.6" y2="637.5" stroke="rgb(135,0,30)" stroke-width="1.45"/>
<line x1="639.6" y1="637.5" x2="684.4" y2="637.5" stroke="rgb(135,0,30)" stroke-width="1.45"/>
<line x1="684.4" y1="637.5" x2="729.2" y2="637.5" stroke="rgb(135,0,30)" stroke-width="1.45"/>
<line x1="729.2" y1="637.5" x2="774.1" y2="637.5" stroke="rgb(135,0,30)" stroke-width="1.45"/>
<line x1="142.7" y1="666.7" x2="189.8" y2="666.7" stroke="rgb(132,55,85)" stroke-width="1.45"/>
<line x1="189.8" y1="666.7" x2="234.8" y2="666.7" stroke="rgb(132,55,85)" stroke-width="1.45"/>
<line x1="234.8" y1="666.7" x2="280.1" y2="666.7" stroke="rgb(132,55,85)" stroke-width="1.45"/>
<line x1="280.1" y1="666.7" x2="324.7" y2="666.7" stroke="rgb(132,55,85)" stroke-width="1.45"/>
<line x1="324.7" y1="666.7" x2="369.6" y2="666.7" stroke="rgb(132,55,85)" stroke-width="1.45"/>
<line x1="369.6" y1="666.7" x2="414.6" y2="666.7" stroke="rgb(150,20,58)" stroke-width="1.45"/>
<line x1="414.6" y1="666.7" x2="460.0" y2="666.7" stroke="rgb(150,20,58)" stroke-width="1.45"/>
<line x1="460.0" y1="666.7" x2="504.8" y2="666.7" stroke="rgb(150,20,58)" stroke-width="1.45"/>
<line x1="504.8" y1="666.7" x2="549.9" y2="666.7" stroke="rgb(135,0,30)" stroke-width="1.45"/>
<line x1="549.9" y1="666.7" x2="594.8" y2="666.7" stroke="rgb(135,0,30)" stroke-width="1.45"/>
<line x1="594.8" y1="666.7" x2="639.6" y2="666.7" stroke="rgb(135,0,30)" stroke-width="1.45"/>
<line x1="639.6" y1="666.7" x2="684.4" y2="666.7" stroke="rgb(135,0,30)" stroke-width="1.45"/>
<line x1="684.4" y1="666.7" x2="729.2" y2="666.7" stroke="rgb(135,0,30)" stroke-width="1.45"/>
<line x1="729.2" y1="666.7" x2="774.1" y2="666.7" stroke="rgb(135,0,30)" stroke-width="1.45"/>
<line x1="142.7" y1="696.2" x2="189.8" y2="696.2" stroke="rgb(132,55,85)" stroke-width="1.45"/>
<line x1="189.8" y1="696.2" x2="234.8" y2="696.2" stroke="rgb(132,55,85)" stroke-width="1.45"/>
<line x1="234.8" y1="696.2" x2="280.1" y2="696.2" stroke="rgb(132,55,85)" stroke-width="1.45"/>
<line x1="280.1" y1="696.2" x2="324.7" y2="696.2" stroke="rgb(132,55,85)" stroke-width="1.45"/>
<line x1="324.7" y1="696.2" x2="369.6" y2="696.2" stroke="rgb(132,55,85)" stroke-width="1.45"/>
<line x1="369.6" y1="696.2" x2="414.6" y2="696.2" stroke="rgb(150,20,58)" stroke-width="1.45"/>
<line x1="414.6" y1="696.2" x2="460.0" y2="696.2" stroke="rgb(150,20,58)" stroke-width="1.45"/>
<line x1="460.0" y1="696.2" x2="504.8" y2="696.2" stroke="rgb(150,20,58)" stroke-width="1.45"/>
<line x1="504.8" y1="696.2" x2="549.9" y2="696.2" stroke="rgb(135,0,30)" stroke-width="1.45"/>
<line x1="549.9" y1="696.2" x2="594.8" y2="696.2" stroke="rgb(135,0,30)" stroke-width="1.45"/>
<line x1="594.8" y1="696.2" x2="639.6" y2="696.2" stroke="rgb(135,0,30)" stroke-width="1.45"/>
<line x1="639.6" y1="696.2" x2="684.4" y2="696.2" stroke="rgb(135,0,30)" stroke-width="1.45"/>
<line x1="684.4" y1="696.2" x2="729.2" y2="696.2" stroke="rgb(135,0,30)" stroke-width="1.45"/>
<line x1="729.2" y1="696.2" x2="774.1" y2="696.2" stroke="rgb(135,0,30)" stroke-width="1.45"/>
<line x1="142.7" y1="725.7" x2="189.8" y2="725.7" stroke="rgb(132,55,85)" stroke-width="1.45"/>
<line x1="189.8" y1="725.7" x2="234.8" y2="725.7" stroke="rgb(132,55,85)" stroke-width="1.45"/>
<line x1="234.8" y1="725.7" x2="280.1" y2="725.7" stroke="rgb(132,55,85)" stroke-width="1.45"/>
<line x1="280.1" y1="725.7" x2="324.7" y2="725.7" stroke="rgb(132,55,85)" stroke-width="1.45"/>
<line x1="324.7" y1="725.7" x2="369.6" y2="725.7" stroke="rgb(132,55,85)" stroke-width="1.45"/>
<line x1="369.6" y1="725.7" x2="414.6" y2="725.7" stroke="rgb(150,20,58)" stroke-width="1.45"/>
<line x1="414.6" y1="725.7" x2="460.0" y2="725.7" stroke="rgb(150,20,58)" stroke-width="1.45"/>
<line x1="460.0" y1="725.7" x2="504.8" y2="725.7" stroke="rgb(150,20,58)" stroke-width="1.45"/>
<line x1="504.8" y1="725.7" x2="549.9" y2="725.7" stroke="rgb(135,0,30)" stroke-width="1.45"/>
<line x1="549.9" y1="725.7" x2="594.8" y2="725.7" stroke="rgb(135,0,30)" stroke-width="1.45"/>
<line x1="594.8" y1="725.7" x2="639.6" y2="725.7" stroke="rgb(135,0,30)" stroke-width="1.45"/>
<line x1="639.6" y1="725.7" x2="684.4" y2="725.7" stroke="rgb(135,0,30)" stroke-width="1.45"/>
<line x1="684.4" y1="725.7" x2="729.2" y2="725.7" stroke="rgb(135,0,30)" stroke-width="1.45"/>
<line x1="729.2" y1="725.7" x2="774.1" y2="725.7" stroke="rgb(135,0,30)" stroke-width="1.45"/>
<line x1="142.7" y1="755.0" x2="189.8" y2="755.0" stroke="rgb(132,55,85)" stroke-width="1.45"/>
<line x1="189.8" y1="755.0" x2="234.8" y2="755.0" stroke="rgb(132,55,85)" stroke-width="1.45"/>
<line x1="234.8" y1="755.0" x2="280.1" y2="755.0" stroke="rgb(132,55,85)" stroke-width="1.45"/>
<line x1="280.1" y1="755.0" x2="324.7" y2="755.0" stroke="rgb(132,55,85)" stroke-width="1.45"/>
<line x1="324.7" y1="755.0" x2="369.6" y2="755.0" stroke="rgb(132,55,85)" stroke-width="1.45"/>
<line x1="369.6" y1="755.0" x2="414.6" y2="755.0" stroke="rgb(150,20,58)" stroke-width="1.45"/>
<line x1="414.6" y1="755.0" x2="460.0" y2="755.0" stroke="rgb(150,20,58)" stroke-width="1.45"/>
<line x1="460.0" y1="755.0" x2="504.8" y2="755.0" stroke="rgb(150,20,58)" stroke-width="1.45"/>
<line x1="504.8" y1="755.0" x2="549.9" y2="755.0" stroke="rgb(135,0,30)" stroke-width="1.45"/>
<line x1="549.9" y1="755.0" x2="594.8" y2="755.0" stroke="rgb(135,0,30)" stroke-width="1.45"/>
<line x1="594.8" y1="755.0" x2="639.6" y2="755.0" stroke="rgb(135,0,30)" stroke-width="1.45"/>
<line x1="639.6" y1="755.0" x2="684.4" y2="755.0" stroke="rgb(135,0,30)" stroke-width="1.45"/>
<line x1="684.4" y1="755.0" x2="729.2" y2="755.0" stroke="rgb(135,0,30)" stroke-width="1.45"/>
<line x1="729.2" y1="755.0" x2="774.1" y2="755.0" stroke="rgb(135,0,30)" stroke-width="1.45"/>
<line x1="142.7" y1="784.5" x2="189.8" y2="784.5" stroke="rgb(132,55,85)" stroke-width="1.45"/>
<line x1="189.8" y1="784.5" x2="234.8" y2="784.5" stroke="rgb(132,55,85)" stroke-width="1.45"/>
<line x1="234.8" y1="784.5" x2="280.1" y2="784.5" stroke="rgb(132,55,85)" stroke-width="1.45"/>
<line x1="280.1" y1="784.5" x2="324.7" y2="784.5" stroke="rgb(132,55,85)" stroke-width="1.45"/>
<line x1="324.7" y1="784.5" x2="369.6" y2="784.5" stroke="rgb(141,38,72)" stroke-width="1.45"/>
<line x1="369.6" y1="784.5" x2="414.6" y2="784.5" stroke="rgb(150,20,58)" stroke-width="1.45"/>
<line x1="414.6" y1="784.5" x2="460.0" y2="784.5" stroke="rgb(150,20,58)" stroke-width="1.45"/>
<line x1="460.0" y1="784.5" x2="504.8" y2="784.5" stroke="rgb(150,20,58)" stroke-width="1.45"/>
<line x1="504.8" y1="784.5" x2="549.9" y2="784.5" stroke="rgb(135,0,30)" stroke-width="1.45"/>
<line x1="549.9" y1="784.5" x2="594.8" y2="784.5" stroke="rgb(135,0,30)" stroke-width="1.45"/>
<line x1="594.8" y1="784.5" x2="639.6" y2="784.5" stroke="rgb(135,0,30)" stroke-width="1.45"/>
<line x1="639.6" y1="784.5" x2="684.4" y2="784.5" stroke="rgb(135,0,30)" stroke-width="1.45"/>
<line x1="684.4" y1="784.5" x2="729.2" y2="784.5" stroke="rgb(135,0,30)" stroke-width="1.45"/>
<line x1="729.2" y1="784.5" x2="774.1" y2="784.5" stroke="rgb(135,0,30)" stroke-width="1.45"/>
<line x1="142.7" y1="814.0" x2="189.8" y2="814.0" stroke="rgb(132,55,85)" stroke-width="1.45"/>
<line x1="189.8" y1="814.0" x2="234.8" y2="814.0" stroke="rgb(132,55,85)" stroke-width="1.45"/>
<line x1="234.8" y1="814.0" x2="280.1" y2="814.0" stroke="rgb(132,55,85)" stroke-width="1.45"/>
<line x1="280.1" y1="814.0" x2="324.7" y2="814.0" stroke="rgb(132,55,85)" stroke-width="1.45"/>
<line x1="324.7" y1="814.0" x2="369.6" y2="814.0" stroke="rgb(150,20,58)" stroke-width="1.45"/>
<line x1="369.6" y1="814.0" x2="414.6" y2="814.0" stroke="rgb(150,20,58)" stroke-width="1.45"/>
<line x1="414.6" y1="814.0" x2="460.0" y2="814.0" stroke="rgb(150,20,58)" stroke-width="1.45"/>
<line x1="460.0" y1="814.0" x2="504.8" y2="814.0" stroke="rgb(150,20,58)" stroke-width="1.45"/>
<line x1="504.8" y1="814.0" x2="549.9" y2="814.0" stroke="rgb(142,10,44)" stroke-width="1.45"/>
<line x1="549.9" y1="814.0" x2="594.8" y2="814.0" stroke="rgb(135,0,30)" stroke-width="1.45"/>
<line x1="594.8" y1="814.0" x2="639.6" y2="814.0" stroke="rgb(135,0,30)" stroke-width="1.45"/>
<line x1="639.6" y1="814.0" x2="684.4" y2="814.0" stroke="rgb(135,0,30)" stroke-width="1.45"/>
<line x1="684.4" y1="814.0" x2="729.2" y2="814.0" stroke="rgb(135,0,30)" stroke-width="1.45"/>
<line x1="729.2" y1="814.0" x2="774.1" y2="814.0" stroke="rgb(135,0,30)" stroke-width="1.45"/>
<line x1="142.7" y1="843.5" x2="189.8" y2="843.5" stroke="rgb(132,55,85)" stroke-width="1.45"/>
<line x1="189.8" y1="843.5" x2="234.8" y2="843.5" stroke="rgb(132,55,85)" stroke-width="1.45"/>
<line x1="234.8" y1="843.5" x2="280.1" y2="843.5" stroke="rgb(141,38,72)" stroke-width="1.45"/>
<line x1="280.1" y1="843.5" x2="324.7" y2="843.5" stroke="rgb(141,38,72)" stroke-width="1.45"/>
<line x1="324.7" y1="843.5" x2="369.6" y2="843.5" stroke="rgb(150,20,58)" stroke-width="1.45"/>
<line x1="369.6" y1="843.5" x2="414.6" y2="843.5" stroke="rgb(150,20,58)" stroke-width="1.45"/>
<line x1="414.6" y1="843.5" x2="460.0" y2="843.5" stroke="rgb(150,20,58)" stroke-width="1.45"/>
<line x1="460.0" y1="843.5" x2="504.8" y2="843.5" stroke="rgb(150,20,58)" stroke-width="1.45"/>
<line x1="504.8" y1="843.5" x2="549.9" y2="843.5" stroke="rgb(150,20,58)" stroke-width="1.45"/>
<line x1="549.9" y1="843.5" x2="594.8" y2="843.5" stroke="rgb(135,0,30)" stroke-width="1.45"/>
<line x1="594.8" y1="843.5" x2="639.6" y2="843.5" stroke="rgb(135,0,30)" stroke-width="1.45"/>
<line x1="639.6" y1="843.5" x2="684.4" y2="843.5" stroke="rgb(135,0,30)" stroke-width="1.45"/>
<line x1="684.4" y1="843.5" x2="729.2" y2="843.5" stroke="rgb(135,0,30)" stroke-width="1.45"/>
<line x1="729.2" y1="843.5" x2="774.1" y2="843.5" stroke="rgb(135,0,30)" stroke-width="1.45"/>
<line x1="142.7" y1="873.2" x2="189.8" y2="873.2" stroke="rgb(141,38,72)" stroke-width="1.45"/>
<line x1="189.8" y1="873.2" x2="234.8" y2="873.2" stroke="rgb(141,38,72)" stroke-width="1.45"/>
<line x1="234.8" y1="873.2" x2="280.1" y2="873.2" stroke="rgb(150,20,58)" stroke-width="1.45"/>
<line x1="280.1" y1="873.2" x2="324.7" y2="873.2" stroke="rgb(150,20,58)" stroke-width="1.45"/>
<line x1="324.7" y1="873.2" x2="369.6" y2="873.2" stroke="rgb(150,20,58)" stroke-width="1.45"/>
<line x1="369.6" y1="873.2" x2="414.6" y2="873.2" stroke="rgb(150,20,58)" stroke-width="1.45"/>
<line x1="414.6" y1="873.2" x2="460.0" y2="873.2" stroke="rgb(150,20,58)" stroke-width="1.45"/>
<line x1="460.0" y1="873.2" x2="504.8" y2="873.2" stroke="rgb(140,10,43)" stroke-width="1.45"/>
<line x1="504.8" y1="873.2" x2="549.9" y2="873.2" stroke="rgb(142,10,44)" stroke-width="1.45"/>
<line x1="549.9" y1="873.2" x2="594.8" y2="873.2" stroke="rgb(135,0,30)" stroke-width="1.45"/>
<line x1="594.8" y1="873.2" x2="639.6" y2="873.2" stroke="rgb(135,0,30)" stroke-width="1.45"/>
<line x1="639.6" y1="873.2" x2="684.4" y2="873.2" stroke="rgb(135,0,30)" stroke-width="1.45"/>
<line x1="684.4" y1="873.2" x2="729.2" y2="873.2" stroke="rgb(135,0,30)" stroke-width="1.45"/>
<line x1="729.2" y1="873.2" x2="774.1" y2="873.2" stroke="rgb(135,0,30)" stroke-width="1.45"/>
<line x1="142.7" y1="903.1" x2="189.8" y2="903.1" stroke="rgb(150,20,58)" stroke-width="1.45"/>
<line x1="189.8" y1="903.1" x2="234.8" y2="903.1" stroke="rgb(150,20,58)" stroke-width="1.45"/>
<line x1="234.8" y1="903.1" x2="280.1" y2="903.1" stroke="rgb(150,20,58)" stroke-width="1.45"/>
<line x1="280.1" y1="903.1" x2="324.7" y2="903.1" stroke="rgb(150,20,58)" stroke-width="1.45"/>
<line x1="324.7" y1="903.1" x2="369.6" y2="903.1" stroke="rgb(150,20,58)" stroke-width="1.45"/>
<line x1="369.6" y1="903.1" x2="414.6" y2="903.1" stroke="rgb(150,20,58)" stroke-width="1.45"/>
<line x1="414.6" y1="903.1" x2="460.0" y2="903.1" stroke="rgb(150,20,58)" stroke-width="1.45"/>
<line x1="460.0" y1="903.1" x2="504.8" y2="903.1" stroke="rgb(130,0,28)" stroke-width="1.45"/>
<line x1="504.8" y1="903.1" x2="549.9" y2="903.1" stroke="rgb(135,0,30)" stroke-width="1.45"/>
<line x1="549.9" y1="903.1" x2="594.8" y2="903.1" stroke="rgb(135,0,30)" stroke-width="1.45"/>
<line x1="594.8" y1="903.1" x2="639.6" y2="903.1" stroke="rgb(135,0,30)" stroke-width="1.45"/>
<line x1="639.6" y1="903.1" x2="684.4" y2="903.1" stroke="rgb(135,0,30)" stroke-width="1.45"/>
<line x1="684.4" y1="903.1" x2="729.2" y2="903.1" stroke="rgb(135,0,30)" stroke-width="1.45"/>
<line x1="729.2" y1="903.1" x2="774.1" y2="903.1" stroke="rgb(135,0,30)" stroke-width="1.45"/>
<path d="M258.2 684 C252 676.5 243 673.5 233 673.5 C219 673.5 209.2 682 209.2 694 C209.2 707 220 712 233 717 C248 723 258.8 729 258.8 741 C258.8 754 247 762 232 762 C219 762 209 757 203 749.3" fill="none" stroke="#fff" stroke-width="10.2"/>
<path d="M392.75 815V719.4H406.7L432.2 792.7L457.7 719.4H471.65V815H462.2V732.4L435.3 805H429.1L402.2 732.4V815Z" fill="#fff"/>
<path d="M605.6 660.2H617.4V746.4H658.9V756.1H605.6Z" fill="#fff"/>
<text transform="translate(79.38 64.73) scale(0.9434 1)" font-size="16.94" font-style="italic" fill="#151515">Size</text>
<text transform="translate(196.81 64.80) scale(0.8183 1)" font-size="18.12" fill="#151515">Length(cm)</text>
<text transform="translate(332.32 64.70) scale(0.8258 1)" font-size="17.83" fill="#151515">Bottom(cm)</text>
<text transform="translate(452.72 64.70) scale(0.8254 1)" font-size="17.83" fill="#151515">Bust(cm)</text>
<text transform="translate(534.51 64.60) scale(0.8320 1)" font-size="17.83" fill="#151515">Sleeve Length(cm)</text>
<text transform="translate(93.73 114.00) scale(0.9661 1)" font-size="20.00" fill="#111">S</text>
<text transform="translate(91.08 162.40) scale(1.0288 1)" font-size="20.87" fill="#111">M</text>
<text transform="translate(94.01 210.50) scale(1.0116 1)" font-size="20.87" fill="#111">L</text>
<text transform="translate(223.34 112.51) scale(0.8579 1)" font-size="19.26" style='font-family:"Liberation Serif", serif' fill="#151515">34</text>
<text transform="translate(362.26 111.72) scale(0.8765 1)" font-size="18.17" fill="#151515">56</text>
<text transform="translate(472.62 110.82) scale(0.8771 1)" font-size="17.89" fill="#151515">60</text>
<text transform="translate(579.70 111.81) scale(0.8098 1)" font-size="18.59" fill="#151515">45</text>
<text transform="translate(224.33 161.82) scale(0.8474 1)" font-size="18.45" fill="#151515">37</text>
<text transform="translate(364.02 158.92) scale(0.8451 1)" font-size="18.45" fill="#151515">60</text>
<text transform="translate(473.62 157.62) scale(0.8635 1)" font-size="18.17" fill="#151515">66</text>
<text transform="translate(580.70 160.10) scale(0.7798 1)" font-size="19.00" fill="#151515">47</text>
<text transform="translate(223.74 208.72) scale(0.8609 1)" font-size="19.12" style='font-family:"Liberation Serif", serif' fill="#151515">40</text>
<text transform="translate(364.42 207.92) scale(0.8771 1)" font-size="17.89" fill="#151515">66</text>
<text transform="translate(474.51 209.00) scale(0.8598 1)" font-size="18.43" fill="#151515">72</text>
<text transform="translate(581.40 209.82) scale(0.8237 1)" font-size="18.45" fill="#151515">49</text>
<text transform="translate(85.38 309.73) scale(0.9434 1)" font-size="16.94" font-style="italic" fill="#151515">Size</text>
<text transform="translate(246.18 309.52) scale(0.8505 1)" font-size="15.14" stroke="#151515" stroke-width="0.35" fill="#151515">Waist</text>
<text transform="translate(279.79 311.11) scale(1.0872 1)" font-size="18.55" fill="#151515">cm</text>
<text transform="translate(379.83 309.90) scale(0.8628 1)" font-size="15.51" fill="#151515">Length</text>
<text transform="translate(424.18 311.12) scale(1.1313 1)" font-size="18.18" fill="#151515">cm</text>
<text transform="translate(546.99 309.90) scale(0.8030 1)" font-size="15.65" fill="#151515">Hip</text>
<text transform="translate(568.38 310.71) scale(1.0897 1)" font-size="18.73" fill="#151515">cm</text>
<text transform="translate(91.26 359.80) scale(1.0294 1)" font-size="20.42" fill="#111">S</text>
<text transform="translate(88.97 407.40) scale(1.0358 1)" font-size="20.87" fill="#111">M</text>
<text transform="translate(92.03 455.20) scale(1.0222 1)" font-size="20.43" fill="#111">L</text>
<text transform="translate(266.85 359.10) scale(0.8395 1)" font-size="20.15" style='font-family:"Liberation Serif", serif' fill="#151515">54</text>
<text transform="translate(266.91 404.92) scale(0.8556 1)" font-size="18.45" fill="#151515">60</text>
<text transform="translate(268.15 454.80) scale(0.8046 1)" font-size="20.15" style='font-family:"Liberation Serif", serif' fill="#151515">64</text>
<text transform="translate(406.80 359.81) scale(1.0353 1)" font-size="19.30" fill="#151515">80</text>
<text transform="translate(406.80 407.41) scale(1.0278 1)" font-size="19.44" fill="#151515">86</text>
<text transform="translate(406.80 455.49) scale(0.9715 1)" font-size="20.56" fill="#151515">93</text>
<text transform="translate(563.62 357.11) scale(0.8262 1)" font-size="18.87" fill="#151515">68</text>
<text transform="translate(566.32 405.21) scale(0.8313 1)" font-size="18.87" fill="#151515">76</text>
<text transform="translate(568.10 454.11) scale(0.7943 1)" font-size="19.01" fill="#151515">84</text>
<text transform="translate(216.60 538.40) scale(0.8357 1)" font-size="22.36" stroke="#151515" stroke-width="0.95" fill="#151515">T</text>
<text transform="translate(230.44 538.40) scale(0.7492 1)" font-size="22.36" stroke="#151515" stroke-width="0.95" fill="#151515">R</text>
<text transform="translate(242.82 538.40) scale(0.7916 1)" font-size="22.36" stroke="#151515" stroke-width="0.95" fill="#151515">Y</text>
<text transform="translate(260.57 538.40) scale(0.9043 1)" font-size="22.36" stroke="#151515" stroke-width="0.95" fill="#151515">O</text>
<text transform="translate(278.27 538.40) scale(0.8436 1)" font-size="22.36" stroke="#151515" stroke-width="0.95" fill="#151515">N</text>
<text transform="translate(298.81 538.40) scale(0.7392 1)" font-size="22.36" stroke="#151515" stroke-width="0.95" fill="#151515">S</text>
<text transform="translate(312.97 538.40) scale(0.7673 1)" font-size="22.36" stroke="#151515" stroke-width="0.95" fill="#151515">U</text>
<text transform="translate(325.55 538.40) scale(0.8302 1)" font-size="22.36" stroke="#151515" stroke-width="0.95" fill="#151515">G</text>
<text transform="translate(342.35 538.40) scale(0.8302 1)" font-size="22.36" stroke="#151515" stroke-width="0.95" fill="#151515">G</text>
<text transform="translate(360.29 538.40) scale(0.6628 1)" font-size="22.36" stroke="#151515" stroke-width="0.95" fill="#151515">E</text>
<text transform="translate(373.49 538.40) scale(0.7695 1)" font-size="22.36" stroke="#151515" stroke-width="0.95" fill="#151515">S</text>
<text transform="translate(386.92 538.40) scale(0.8043 1)" font-size="22.36" stroke="#151515" stroke-width="0.95" fill="#151515">T</text>
<text transform="translate(399.79 538.40) scale(0.7380 1)" font-size="22.36" stroke="#151515" stroke-width="0.95" fill="#151515">I</text>
<text transform="translate(406.81 538.40) scale(0.7422 1)" font-size="22.36" stroke="#151515" stroke-width="0.95" fill="#151515">O</text>
<text transform="translate(423.19 538.40) scale(0.8279 1)" font-size="22.36" stroke="#151515" stroke-width="0.95" fill="#151515">N</text>
<text transform="translate(439.06 538.40) scale(0.7998 1)" font-size="22.36" stroke="#151515" stroke-width="0.95" fill="#151515">S</text>
<text transform="translate(69.10 574.00) scale(1.0582 1)" font-size="13.77" stroke="#111" stroke-width="0.4" fill="#111">Weight(kg)</text>
<text transform="translate(47.61 600.38) scale(1.0325 1)" font-size="13.55" stroke="#111" stroke-width="0.25" fill="#111">Height(cm)</text>
<text transform="translate(157.76 588.54) scale(1.2249 1)" font-size="13.59" font-weight="bold" stroke="#000" stroke-width="0.45" fill="#000">40</text>
<text transform="translate(203.96 588.74) scale(1.2263 1)" font-size="13.45" font-weight="bold" stroke="#000" stroke-width="0.45" fill="#000">45</text>
<text transform="translate(242.36 588.74) scale(1.2241 1)" font-size="13.45" font-weight="bold" stroke="#000" stroke-width="0.45" fill="#000">47.5</text>
<text transform="translate(294.73 588.44) scale(1.2583 1)" font-size="13.03" font-weight="bold" stroke="#000" stroke-width="0.45" fill="#000">50</text>
<text transform="translate(331.43 588.44) scale(1.2772 1)" font-size="13.03" font-weight="bold" stroke="#000" stroke-width="0.45" fill="#000">52.5</text>
<text transform="translate(383.24 586.75) scale(1.2807 1)" font-size="12.61" font-weight="bold" stroke="#000" stroke-width="0.45" fill="#000">55</text>
<text transform="translate(422.33 586.44) scale(1.2382 1)" font-size="13.31" font-weight="bold" stroke="#000" stroke-width="0.45" fill="#000">57.5</text>
<text transform="translate(474.73 586.75) scale(1.3005 1)" font-size="12.61" font-weight="bold" stroke="#000" stroke-width="0.45" fill="#000">60</text>
<text transform="translate(512.53 586.75) scale(1.2990 1)" font-size="12.61" font-weight="bold" stroke="#000" stroke-width="0.45" fill="#000">62.5</text>
<text transform="translate(564.44 586.75) scale(1.2882 1)" font-size="12.61" font-weight="bold" stroke="#000" stroke-width="0.45" fill="#000">65</text>
<text transform="translate(609.78 587.04) scale(1.2334 1)" font-size="13.03" font-weight="bold" stroke="#000" stroke-width="0.45" fill="#000">70</text>
<text transform="translate(651.65 586.34) scale(1.2604 1)" font-size="13.31" font-weight="bold" stroke="#000" stroke-width="0.45" fill="#000">75</text>
<text transform="translate(699.44 585.05) scale(1.2777 1)" font-size="12.61" font-weight="bold" stroke="#000" stroke-width="0.45" fill="#000">80</text>
<text transform="translate(743.83 585.54) scale(1.1963 1)" font-size="13.73" font-weight="bold" stroke="#000" stroke-width="0.45" fill="#000">85</text>
<text transform="translate(68.98 626.23) scale(0.9121 1)" font-size="16.90" font-weight="bold" fill="#111">150CM</text>
<text transform="translate(68.98 655.83) scale(0.9198 1)" font-size="16.76" font-weight="bold" fill="#111">155CM</text>
<text transform="translate(68.98 685.63) scale(0.9198 1)" font-size="16.76" font-weight="bold" fill="#111">158CM</text>
<text transform="translate(68.98 715.33) scale(0.9198 1)" font-size="16.76" font-weight="bold" fill="#111">160CM</text>
<text transform="translate(68.98 745.03) scale(0.9198 1)" font-size="16.76" font-weight="bold" fill="#111">162CM</text>
<text transform="translate(68.98 775.43) scale(0.9198 1)" font-size="16.76" font-weight="bold" fill="#111">164CM</text>
<text transform="translate(68.98 805.63) scale(0.9198 1)" font-size="16.76" font-weight="bold" fill="#111">168CM</text>
<text transform="translate(68.98 835.33) scale(0.9198 1)" font-size="16.76" font-weight="bold" fill="#111">170CM</text>
<text transform="translate(68.98 865.03) scale(0.9198 1)" font-size="16.76" font-weight="bold" fill="#111">172CM</text>
<text transform="translate(68.98 894.83) scale(0.9198 1)" font-size="16.76" font-weight="bold" fill="#111">175CM</text>
</svg>
</body></html>
